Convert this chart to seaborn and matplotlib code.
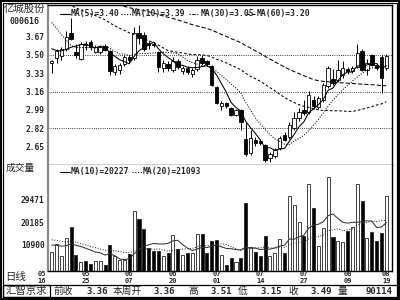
import numpy as np
import pandas as pd
import matplotlib
matplotlib.use("Agg")
import matplotlib.pyplot as plt
import seaborn as sns
from matplotlib.patches import Rectangle
from matplotlib.lines import Line2D

# ---------------- data ----------------
stock_name = "亿城股份"
stock_code = "000616"

open_ = [3.43, 3.47, 3.49, 3.56, 3.70, 3.53, 3.46, 3.60, 3.62, 3.53,
         3.53, 3.58, 3.54, 3.34, 3.36, 3.42, 3.48, 3.47, 3.70, 3.69,
         3.61, 3.60, 3.53, 3.38, 3.42, 3.36, 3.44, 3.35, 3.38, 3.32,
         3.37, 3.47, 3.44, 3.40, 3.20, 3.03, 3.05, 3.01, 2.94, 2.99,
         2.72, 2.59, 2.71, 2.70, 2.66, 2.54, 2.56, 2.64, 2.76, 2.74,
         2.82, 2.91, 2.99, 2.97, 3.08, 3.02, 3.08, 3.21, 3.28, 3.27,
         3.31, 3.37, 3.35, 3.39, 3.54, 3.36, 3.50, 3.41, 3.48, 3.38]
high = [3.45, 3.56, 3.57, 3.72, 3.84, 3.60, 3.62, 3.63, 3.64, 3.59,
        3.58, 3.60, 3.55, 3.42, 3.43, 3.50, 3.50, 3.76, 3.78, 3.71,
        3.63, 3.62, 3.54, 3.45, 3.44, 3.48, 3.46, 3.40, 3.40, 3.38,
        3.49, 3.50, 3.45, 3.41, 3.21, 3.07, 3.06, 3.02, 3.00, 3.00,
        2.88, 2.80, 2.74, 2.72, 2.67, 2.60, 2.64, 2.75, 2.78, 2.88,
        2.97, 3.01, 3.08, 3.17, 3.12, 3.12, 3.24, 3.40, 3.37, 3.45,
        3.44, 3.39, 3.40, 3.60, 3.56, 3.46, 3.51, 3.43, 3.50, 3.51]
low = [3.33, 3.43, 3.45, 3.54, 3.64, 3.47, 3.45, 3.55, 3.55, 3.52,
       3.51, 3.54, 3.31, 3.31, 3.32, 3.40, 3.43, 3.45, 3.60, 3.54,
       3.56, 3.57, 3.34, 3.34, 3.35, 3.34, 3.37, 3.32, 3.32, 3.30,
       3.35, 3.41, 3.40, 3.21, 3.04, 2.99, 3.01, 2.93, 2.93, 2.80,
       2.56, 2.57, 2.65, 2.66, 2.51, 2.51, 2.54, 2.62, 2.70, 2.72,
       2.80, 2.89, 2.94, 2.95, 3.00, 3.00, 3.06, 3.19, 3.22, 3.25,
       3.29, 3.32, 3.33, 3.38, 3.35, 3.31, 3.40, 3.36, 3.15, 3.36]
close = [3.44, 3.54, 3.56, 3.67, 3.65, 3.50, 3.60, 3.59, 3.57, 3.57,
         3.57, 3.55, 3.35, 3.40, 3.41, 3.48, 3.45, 3.70, 3.66, 3.56,
         3.59, 3.59, 3.39, 3.43, 3.38, 3.44, 3.39, 3.38, 3.34, 3.36,
         3.45, 3.43, 3.42, 3.22, 3.05, 3.05, 3.03, 2.94, 2.99, 2.88,
         2.58, 2.73, 2.68, 2.68, 2.52, 2.58, 2.62, 2.73, 2.71, 2.85,
         2.91, 2.97, 2.96, 3.13, 3.03, 3.10, 3.22, 3.38, 3.24, 3.36,
         3.38, 3.35, 3.38, 3.52, 3.36, 3.43, 3.41, 3.38, 3.29, 3.49]
volume = [7700, 11100, 6200, 13500, 18300, 6600, 3900, 4100, 2900, 4100,
          4100, 2300, 10600, 6200, 4500, 4500, 7000, 24900, 21300, 17200,
          9400, 8300, 8300, 6000, 7300, 14800, 9100, 6800, 7300, 7300,
          15300, 15300, 7400, 12200, 12600, 6400, 2600, 5500, 3800, 5500,
          27900, 10000, 8000, 6200, 14400, 6200, 7600, 13100, 7300, 31100,
          27200, 20400, 14400, 35800, 25900, 10300, 17600, 38700, 13900, 12500,
          11800, 16500, 18000, 35800, 28900, 13500, 16100, 12500, 15800, 31000]

# closes / volumes before the visible window (needed by the moving averages)
close_before = [4.18, 4.22, 4.25, 4.20, 4.16, 4.21, 4.27, 4.30, 4.24, 4.19,
                4.15, 4.20, 4.26, 4.31, 4.28, 4.22, 4.17, 4.13, 4.18, 4.24,
                4.29, 4.25, 4.20, 4.16, 4.12, 4.17, 4.23, 4.27, 4.22, 4.18,
                4.14, 4.10, 4.15, 4.21, 4.25, 4.19, 4.14, 4.10, 4.06, 4.12,
                4.18, 4.22, 4.16, 4.11, 4.07, 4.13, 4.19, 4.23, 4.17, 4.12,
                4.08, 4.14, 4.20, 4.15, 3.66, 3.62, 3.58, 3.60, 3.55]
volume_before = [16200, 13800, 17500, 14900, 12600, 15800, 14100, 16700, 13400, 15100,
                 12300, 9800, 11500, 10400, 12900, 8700, 11200, 10600, 12000]

date_ticks = [0, 7, 16, 25, 34, 43, 52, 61, 69]
date_months = ["05", "05", "06", "06", "07", "07", "07", "08", "08"]
date_days = ["16", "25", "07", "20", "01", "14", "27", "09", "19"]
price_ticks = [3.67, 3.50, 3.33, 3.16, 2.99, 2.82, 2.65]
price_grid = [3.50, 3.16, 2.82]
volume_ticks = [29471, 20185, 10900]
ma_names = ["MA(5)", "MA(10)", "MA(30)", "MA(60)"]
ma_values = ["3.40", "3.39", "3.05", "3.20"]
vol_ma_names = ["MA(10)", "MA(20)"]
vol_ma_values = ["20227", "21093"]
status_labels = ["前收", "本周开", "高", "低", "收", "量"]
status_values = ["3.36", "3.36", "3.51", "3.15", "3.49", "90114"]
panel_label = "汇智京求"
volume_title = "成交量"
period_label = "日线"

# ---------------- style ----------------
sns.set_style("white")
plt.rcParams['font.family'] = ['Noto Sans CJK SC', 'DejaVu Sans']
MONO = dict(family='DejaVu Sans Mono', weight='bold')
W, H = 400, 300

fig = plt.figure(figsize=(4, 3), dpi=100)
fig.patch.set_facecolor('white')


def fx(x):
    return x / W


def fy(y):
    return 1 - y / H


def ftext(x, y, s, **kw):
    fig.text(fx(x), fy(y), s, **kw)


def fline(x0, x1, y, **kw):
    fig.add_artist(Line2D([fx(x0), fx(x1)], [fy(y), fy(y)],
                          transform=fig.transFigure, color='black', **kw))


n = len(close)
idx = np.arange(n)
o = np.array(open_); c = np.array(close)
hi = np.array(high); lo = np.array(low)
vol = np.array(volume)
up = c >= o

s_close = pd.Series(close_before + close)
nb = len(close_before)
ma = {w: s_close.rolling(w).mean().iloc[nb:].to_numpy() for w in (5, 10, 30, 60)}
s_vol = pd.Series(volume_before + volume)
vb = len(volume_before)
vma = {w: s_vol.rolling(w).mean().iloc[vb:].to_numpy() for w in (10, 20)}

ax_left, ax_right = 48, 392
px_per_bar = 4.85
x0 = -0.763
xlim = (x0, x0 + (ax_right - ax_left) / px_per_bar)

ax_p = fig.add_axes([fx(ax_left), fy(165), (ax_right - ax_left) / W, 160 / H])
ax_v = fig.add_axes([fx(ax_left), fy(271), (ax_right - ax_left) / W, 106 / H])

# ---- price panel ----
p_top = 3.50 + 50 / 107.6
p_bot = 3.50 - 110 / 107.6
ax_p.set_xlim(*xlim)
ax_p.set_ylim(p_bot, p_top)
for g in price_grid:
    ax_p.axhline(g, color='black', lw=0.6, ls=(0, (1, 1.6)), zorder=1)

ax_p.vlines(idx, lo, hi, color='black', lw=0.7, zorder=2)
body_h = np.maximum(np.abs(c - o), 0.006)
body_b = np.minimum(o, c)
ax_p.bar(idx, body_h, bottom=body_b, width=0.72,
         color=np.where(up, 'white', 'black'), edgecolor='black',
         linewidth=0.6, zorder=3)

ma_styles = {5: '-', 10: (0, (1, 1.5)), 30: (0, (2.5, 2)), 60: (0, (4, 2))}
for w in (5, 10, 30, 60):
    sns.lineplot(x=idx, y=ma[w], ax=ax_p, color='black', lw=0.75,
                 linestyle=ma_styles[w], zorder=4)

ax_p.set_yticks(price_ticks)
ax_p.set_yticklabels([f"{t:.2f}" for t in price_ticks], fontsize=5.7, **MONO)
ax_p.set_xticks([])
ax_p.tick_params(axis='y', length=0, pad=2.5)
ax_p.set_xlabel(''); ax_p.set_ylabel('')

# ---- volume panel ----
ax_v.set_xlim(*xlim)
ax_v.set_ylim(0, 106 * 412.7)
ax_v.bar(idx, vol, width=0.62, color=np.where(up, 'white', 'black'),
         edgecolor='#222222', linewidth=0.6, zorder=2)
sns.lineplot(x=idx, y=vma[10], ax=ax_v, color='#333333', lw=0.75, zorder=4)
sns.lineplot(x=idx, y=vma[20], ax=ax_v, color='#333333', lw=0.75,
             linestyle=(0, (1, 1.5)), zorder=4)
ax_v.set_yticks(volume_ticks)
ax_v.set_yticklabels([str(t) for t in volume_ticks], fontsize=5.7, **MONO)
ax_v.set_xticks([])
ax_v.tick_params(axis='y', length=0, pad=2.5)
ax_v.set_xlabel(''); ax_v.set_ylabel('')

# date labels: month on the first row, day on the second
tr = ax_v.get_xaxis_transform()
for k, (t, mo, dd) in enumerate(zip(date_ticks, date_months, date_days)):
    xpos = t - 2.1 if k == 0 else t
    ax_v.text(xpos, -3.5 / 106, mo, transform=tr, ha='center', va='center',
              fontsize=5, clip_on=False, **MONO)
    ax_v.text(xpos, -10 / 106, dd, transform=tr, ha='center', va='center',
              fontsize=5, clip_on=False, **MONO)

for ax in (ax_p, ax_v):
    for side in ('top', 'right', 'bottom'):
        ax.spines[side].set_color('black')
        ax.spines[side].set_linewidth(1.0)
    ax.spines['left'].set_color('#8a8a8a')
    ax.spines['left'].set_linewidth(1.6)
    ax.set_facecolor('white')
ax_v.spines['top'].set_visible(False)

# ---- legends ----
leg_y = 13.5
fline(60, 70, leg_y, lw=0.8)
ftext(71, leg_y, f"{ma_names[0]}={ma_values[0]}", fontsize=5.8, va='center', **MONO)
fline(121, 130.5, leg_y, lw=0.8, ls=(0, (1, 1.5)))
ftext(131.5, leg_y, f"{ma_names[1]}={ma_values[1]}", fontsize=5.8, va='center', **MONO)
fline(189, 199, leg_y, lw=0.8, ls=(0, (1, 1.5, 3, 1.5)))
ftext(201, leg_y, f"{ma_names[2]}={ma_values[2]}", fontsize=5.8, va='center', **MONO)
fline(246, 256, leg_y, lw=0.8, ls=(0, (3, 2)))
ftext(257, leg_y, f"{ma_names[3]}={ma_values[3]}", fontsize=5.8, va='center', **MONO)

vleg_y = 171.5
fline(60, 70, vleg_y, lw=0.8)
ftext(70.5, vleg_y, f"{vol_ma_names[0]}={vol_ma_values[0]}", fontsize=5.8, va='center', **MONO)
fline(132, 142, vleg_y, lw=0.8, ls=(0, (1, 1.5)))
ftext(143, vleg_y, f"{vol_ma_names[1]}={vol_ma_values[1]}", fontsize=5.8, va='center', **MONO)

# ---- left column texts ----
ftext(24, 8.5, stock_name, fontsize=7.5, ha='center', va='center')
ftext(25, 22, stock_code, fontsize=6, ha='center', va='center', **MONO)
ftext(20, 168, volume_title, fontsize=7, ha='center', va='center')
ftext(16, 277, period_label, fontsize=7.5, ha='center', va='center')

# ---- status bar ----
sy = 291
ftext(26.5, sy, panel_label, fontsize=7.5, ha='center', va='center')
label_x = [53, 113, 188, 238, 288, 338]
value_x = [108, 175, 232, 282, 332, 392]
for lx, lab in zip(label_x, status_labels):
    ftext(lx, sy, lab, fontsize=7, ha='left', va='center')
for vx, val in zip(value_x, status_values):
    ftext(vx, sy, val, fontsize=6.5, ha='right', va='center', **MONO)

# ---- frames ----
def frect(x0_, y0_, x1_, y1_, lw):
    fig.add_artist(Rectangle((fx(x0_), fy(y1_)), fx(x1_) - fx(x0_), fy(y0_) - fy(y1_),
                             transform=fig.transFigure, fill=False,
                             edgecolor='black', linewidth=lw))

frect(0.6, 0.6, 399.4, 299.4, 1.4)
frect(3, 3, 396.5, 297, 0.9)
fline(3, 396.5, 285, lw=0.9)
frect(3, 285, 50, 297, 0.9)

fig.savefig("out.png", dpi=100, facecolor='white')
